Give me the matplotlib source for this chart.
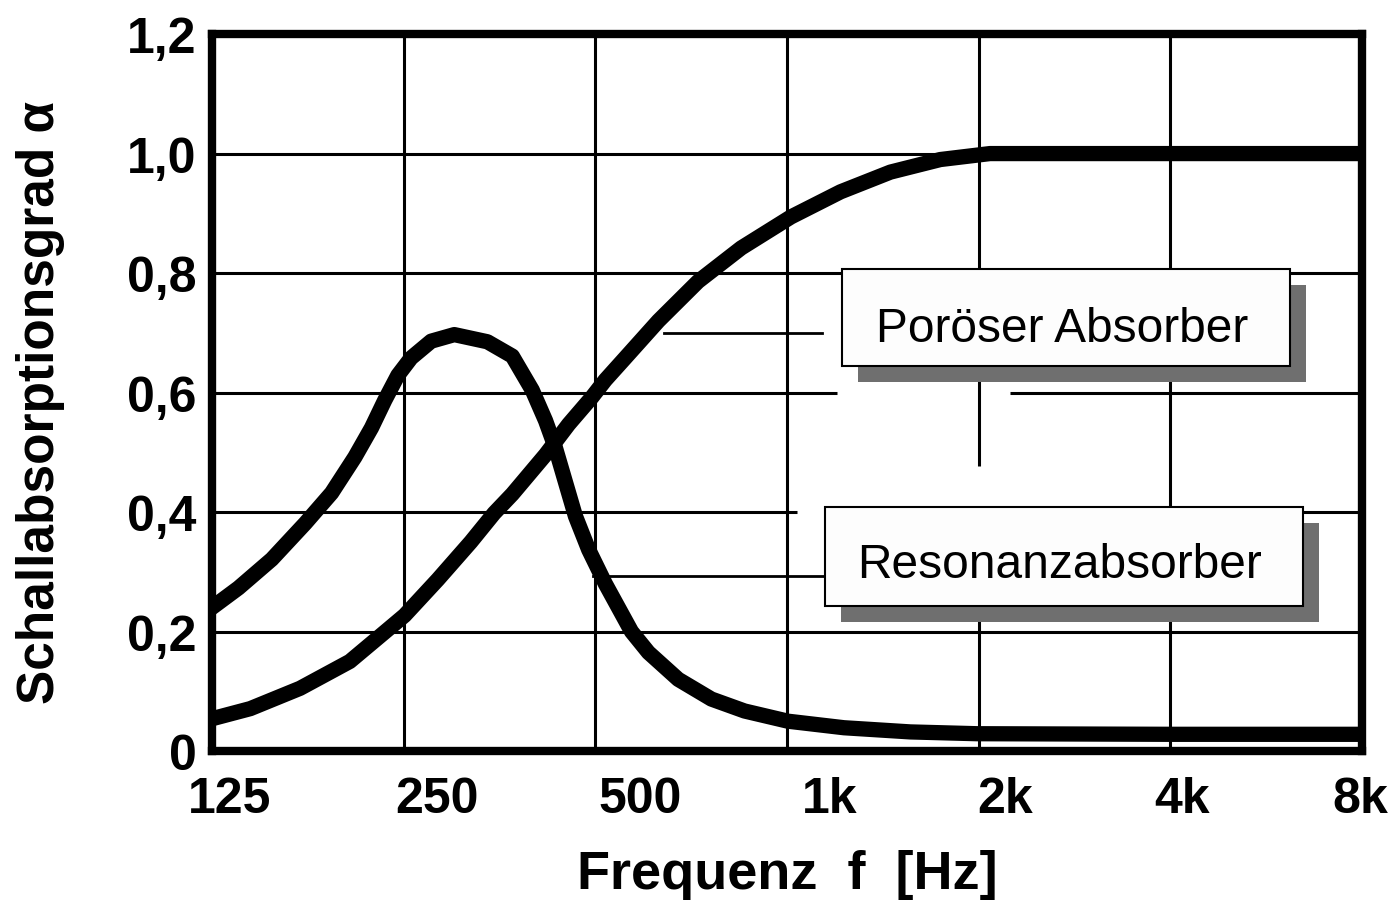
import numpy as np
import matplotlib.pyplot as plt
from matplotlib.patches import Rectangle
from matplotlib.transforms import ScaledTranslation

plt.rcParams['font.family'] = ['Liberation Sans', 'DejaVu Sans']

# axis ticks
freq_ticks = [125, 250, 500, 1000, 2000, 4000, 8000]
freq_labels = ['125', '250', '500', '1k', '2k', '4k', '8k']
alpha_ticks = [0, 0.2, 0.4, 0.6, 0.8, 1.0, 1.2]
alpha_labels = ['0', '0,2', '0,4', '0,6', '0,8', '1,0', '1,2']

# Poröser Absorber
f_por = [125, 143.6, 171.9, 205.8, 233.5, 250.9, 282.9, 318.8, 346.8, 370.4, 417.7, 454.2,
         493.8, 518.5, 557.2, 628.3, 725.3, 847.6, 1014.7, 1214, 1454, 1741, 2084, 4000, 8000]
a_por = [0.054, 0.071, 0.105, 0.15, 0.199, 0.227, 0.287, 0.35, 0.398, 0.43, 0.496, 0.547,
         0.592, 0.621, 0.658, 0.72, 0.786, 0.842, 0.894, 0.936, 0.969, 0.99, 1.0, 1.0, 1.0]

# Resonanzabsorber
f_res = [125, 137.6, 155.2, 175.1, 192.7, 209.6, 222.6, 233.5, 244.9, 256.9, 276.2, 300.3,
         338.5, 370.4, 398.1, 417.7, 433.0, 448.9, 465.4, 488.2, 518.5, 570, 606, 675, 761,
         858, 1003, 1229, 1563, 1986, 4000, 8000]
a_res = [0.24, 0.273, 0.321, 0.381, 0.432, 0.492, 0.541, 0.587, 0.629, 0.658, 0.686, 0.697,
         0.685, 0.661, 0.604, 0.553, 0.507, 0.45, 0.393, 0.337, 0.28, 0.20, 0.165, 0.12, 0.087,
         0.067, 0.05, 0.039, 0.032, 0.029, 0.028, 0.028]

fig = plt.figure(figsize=(14, 9.04), dpi=100)
ax = fig.add_axes([0.1514, 0.1681, 0.8214, 0.7931])
ax.set_xscale('log', base=2)
ax.set_xlim(125, 8000)
ax.set_ylim(0, 1.2)

# grid (with the gaps of the original drawing)
for y in [0.2, 0.8, 1.0]:
    ax.axhline(y, color='black', lw=2.2, zorder=1)
ax.hlines([0.6, 0.6], [125, 2240], [1200, 8000], color='black', lw=2.2, zorder=1)
ax.hlines([0.4, 0.4], [125, 1300], [1036, 8000], color='black', lw=2.2, zorder=1)
for f in [250, 500, 1000, 4000]:
    ax.axvline(f, color='black', lw=2.2, zorder=1)
ax.vlines([2000, 2000], [0, 0.477], [0.408, 1.2], color='black', lw=2.2, zorder=1)

# curves
ax.plot(f_por, a_por, color='black', lw=11, solid_joinstyle='round', zorder=3)
ax.plot(f_res, a_res, color='black', lw=11, solid_joinstyle='round', zorder=3)

# leader lines to the label boxes
ax.plot([640, 1135], [0.70, 0.70], color='black', lw=2, zorder=2)
ax.plot([496, 1147], [0.293, 0.293], color='black', lw=2, zorder=2)

# label boxes with shadow
def label_box(x0, y0, x1, y1, text, tx, ty):
    dx, dy = 16 / 1150, -16 / 717
    ax.add_patch(Rectangle((x0 + dx, y0 + dy), x1 - x0, y1 - y0, transform=ax.transAxes,
                           facecolor='#6f6f6f', edgecolor='none', zorder=4))
    ax.add_patch(Rectangle((x0, y0), x1 - x0, y1 - y0, transform=ax.transAxes,
                           facecolor='#fdfdfd', edgecolor='black', lw=1.5, zorder=5))
    ax.text(tx, ty, text, transform=ax.transAxes, ha='center', va='center',
            fontsize=34.5, zorder=6)

label_box(0.5478, 0.5370, 0.9374, 0.6722, 'Poröser Absorber', 0.739, 0.590)
label_box(0.5330, 0.2022, 0.9487, 0.3403, 'Resonanzabsorber', 0.7374, 0.2608)

# ticks
ax.set_xticks(freq_ticks)
ax.set_xticklabels(freq_labels, fontsize=36, fontweight='bold')
ax.xaxis.set_minor_locator(plt.NullLocator())
ax.set_yticks(alpha_ticks)
ax.set_yticklabels(alpha_labels, fontsize=36, fontweight='bold')
ax.tick_params(length=0)
ax.tick_params(axis='x', pad=18)
ax.tick_params(axis='y', pad=11)
shifts = [18, 33, 45, 43, 27, 12, -2]
for lab, s in zip(ax.get_xticklabels(), shifts):
    lab.set_transform(lab.get_transform() + ScaledTranslation(s / 100, 0, fig.dpi_scale_trans))

for sp in ax.spines.values():
    sp.set_linewidth(6)
    sp.set_zorder(7)

ax.set_xlabel('Frequenz  f  [Hz]', fontsize=39, fontweight='bold')
ax.xaxis.set_label_coords(0.5, -0.137)
ax.xaxis.label.set_va('top')
ax.set_ylabel('Schallabsorptionsgrad α', fontsize=37, fontweight='bold')
ax.yaxis.set_label_coords(-0.128, 0.488)

fig.savefig('out.png', dpi=100)
